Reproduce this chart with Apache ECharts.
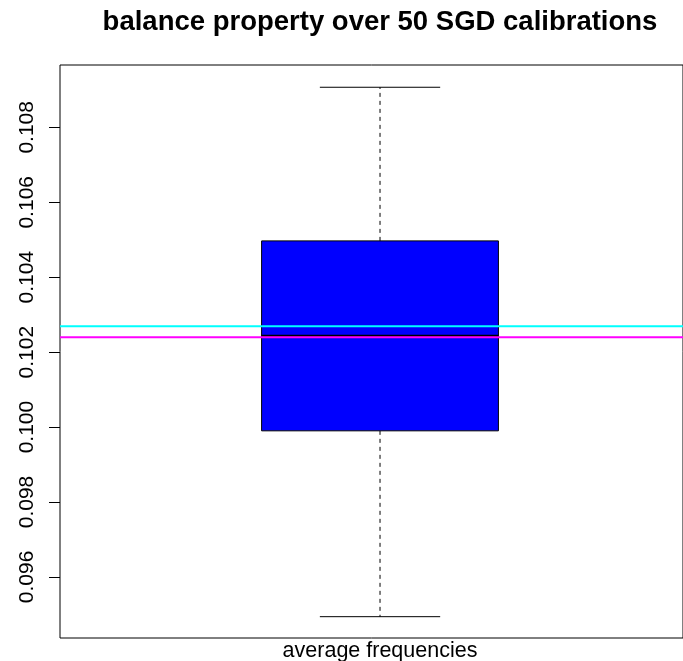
<!DOCTYPE html>
<html>
<head>
<meta charset="utf-8">
<script src="https://cdn.jsdelivr.net/npm/echarts@6/dist/echarts.min.js"></script>
<style>
html,body{margin:0;padding:0;background:#fff;}
#chart{width:683px;height:661px;}
</style>
</head>
<body>
<div id="chart"></div>
<script>
const categories = ['average frequencies'];
const whiskerLow = [0.09494];
const q1 = [0.09990];
const median = [0.10244];
const q3 = [0.10497];
const whiskerHigh = [0.10907];
const refLineValues = [0.10269, 0.10240];
const refLineColors = ['#00FFFF', '#FF00FF'];
const yTicks = [0.096, 0.098, 0.100, 0.102, 0.104, 0.106, 0.108];
const yMin = 0.094371;
const yMax = 0.109664;
const xMin = 0.5;
const xMax = 1.4734;

const boxData = categories.map((c, i) => [i + 1, whiskerLow[i], q1[i], median[i], q3[i], whiskerHigh[i]]);
const refData = refLineValues.map((v, i) => [1, v, i]);

const chart = echarts.init(document.getElementById('chart'), null, {renderer: 'canvas'});
chart.setOption({
  animation: false,
  backgroundColor: '#fff',
  title: {
    text: 'balance property over 50 SGD calibrations',
    left: 375, textAlign: 'center', top: 3,
    textStyle: {fontFamily: 'Liberation Sans, Arial, sans-serif', fontWeight: 'bold', fontSize: 27.5, color: '#000'}
  },
  grid: {left: 60, top: 65, right: 0, height: 573, show: true, borderColor: '#000', borderWidth: 1, backgroundColor: 'transparent', outerBoundsMode: 'none', containLabel: false},
  xAxis: {
    type: 'value', min: xMin, max: xMax,
    axisLine: {show: false}, axisTick: {show: false}, splitLine: {show: false},
    axisLabel: {
      color: '#000', fontSize: 21.5, fontFamily: 'Liberation Sans, Arial, sans-serif', margin: 2,
      customValues: categories.map((c, i) => i + 1),
      formatter: v => categories[Math.round(v) - 1] || ''
    }
  },
  yAxis: {
    type: 'value', min: yMin, max: yMax,
    axisLine: {show: false}, splitLine: {show: false},
    axisTick: {show: true, length: 11, lineStyle: {color: '#000', width: 1}, customValues: yTicks},
    axisLabel: {
      color: '#000', fontSize: 21, fontFamily: 'Liberation Sans, Arial, sans-serif',
      rotate: 90, margin: 22, customValues: yTicks,
      formatter: v => v.toFixed(3)
    }
  },
  series: [{
    type: 'custom',
    data: boxData,
    encode: {x: 0, y: [1, 2, 3, 4, 5]},
    z: 2,
    renderItem: function (params, api) {
      const x = api.value(0);
      const unit = api.size([1, 0])[0];
      const halfBox = unit * 0.185;
      const halfCap = unit * 0.094;
      const pLow = api.coord([x, api.value(1)]);
      const pQ1 = api.coord([x, api.value(2)]);
      const pMed = api.coord([x, api.value(3)]);
      const pQ3 = api.coord([x, api.value(4)]);
      const pHigh = api.coord([x, api.value(5)]);
      const cx = pMed[0];
      const dash = {stroke: '#000', lineWidth: 1, lineDash: [4, 4]};
      return {
        type: 'group',
        children: [
          {type: 'line', shape: {x1: cx, y1: pQ3[1], x2: cx, y2: pHigh[1]}, style: dash},
          {type: 'line', shape: {x1: cx, y1: pQ1[1], x2: cx, y2: pLow[1]}, style: dash},
          {type: 'line', shape: {x1: cx - halfCap, y1: pHigh[1], x2: cx + halfCap, y2: pHigh[1]}, style: {stroke: '#000', lineWidth: 1}},
          {type: 'line', shape: {x1: cx - halfCap, y1: pLow[1], x2: cx + halfCap, y2: pLow[1]}, style: {stroke: '#000', lineWidth: 1}},
          {type: 'rect', shape: {x: cx - halfBox, y: pQ3[1], width: 2 * halfBox, height: pQ1[1] - pQ3[1]}, style: {fill: '#0000FF', stroke: '#000', lineWidth: 1}},
          {type: 'line', shape: {x1: cx - halfBox, y1: pMed[1], x2: cx + halfBox, y2: pMed[1]}, style: {stroke: '#000', lineWidth: 2}}
        ]
      };
    }
  }, {
    type: 'custom',
    data: refData,
    encode: {x: 0, y: 1},
    z: 3,
    renderItem: function (params, api) {
      const p = api.coord([api.value(0), api.value(1)]);
      const cs = params.coordSys;
      return {
        type: 'line',
        shape: {x1: cs.x, y1: p[1], x2: cs.x + cs.width + 20, y2: p[1]},
        style: {stroke: refLineColors[api.value(2)], lineWidth: 2}
      };
    }
  }]
});
</script>
</body>
</html>
